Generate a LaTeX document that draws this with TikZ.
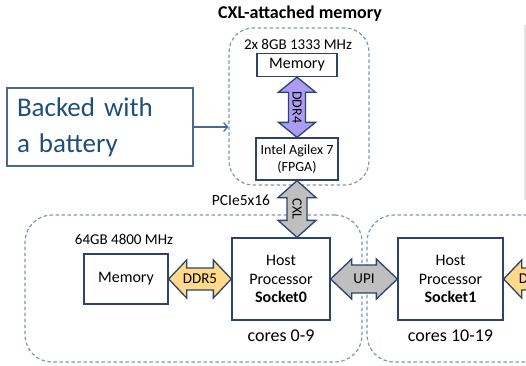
\documentclass[tikz,border=0pt]{standalone}
\usepackage{fontspec}
\setmainfont{Carlito}
\usetikzlibrary{calc,arrows.meta}
\definecolor{boxc}{HTML}{2E4369}
\definecolor{dashc}{HTML}{8497B0}
\definecolor{purp}{HTML}{AD9CF4}
\definecolor{yell}{HTML}{FFDA88}
\definecolor{grayf}{HTML}{BFBFBF}
\definecolor{battc}{HTML}{1F4E79}
\definecolor{battb}{HTML}{4A6890}
\newcommand\fs[2]{\fontsize{#1}{#2}\selectfont}
% horizontal double fat arrow: style, left point, right point, head half, shaft half, head length
\newcommand\fatH[6]{\path[#1] let \p1=#2, \p2=#3 in
  (\x1,\y1) -- (\x1+#6,\y1+#4) -- (\x1+#6,\y1+#5) -- (\x2-#6,\y1+#5) -- (\x2-#6,\y1+#4) -- (\x2,\y1)
  -- (\x2-#6,\y1-#4) -- (\x2-#6,\y1-#5) -- (\x1+#6,\y1-#5) -- (\x1+#6,\y1-#4) -- cycle;}
% vertical double fat arrow: style, top point, bottom point, head half, shaft half, head length
\newcommand\fatV[6]{\path[#1] let \p1=#2, \p2=#3 in
  (\x1,\y1) -- (\x1+#4,\y1-#6) -- (\x1+#5,\y1-#6) -- (\x1+#5,\y2+#6) -- (\x1+#4,\y2+#6) -- (\x1,\y2)
  -- (\x1-#4,\y2+#6) -- (\x1-#5,\y2+#6) -- (\x1-#5,\y1-#6) -- (\x1-#4,\y1-#6) -- cycle;}
\begin{document}
\begin{tikzpicture}[x=1pt,y=-1pt,
  box/.style={draw=boxc, line width=1.3pt, fill=white, inner sep=0pt, align=center},
  region/.style={draw=dashc, dash pattern=on 3.5pt off 2.5pt, line width=1.2pt, rounded corners=24pt, inner sep=0pt},
  fat/.style={draw=boxc, line width=1.3pt, fill=#1},
  lbl/.style={inner sep=0pt, text=black}]
\useasboundingbox (0,0) rectangle (526,365);
\clip (0,0) rectangle (526,365);

% faint slide edge
\draw[draw=black!10, line width=1.5pt] (525,25) -- (525,200);

% regions
\node[region, minimum width=140pt, minimum height=157pt] (cxlbox) at (299,106.5) {};
\node[region, minimum width=337pt, minimum height=147pt, rounded corners=27pt] (sock0) at (193.5,288.5) {};
\node[region, minimum width=193pt, minimum height=147pt, rounded corners=27pt] (sock1) at (463.5,288.5) {};

% texts
\node[lbl, font=\bfseries\fs{18}{21}] (title) at (300,14) {CXL-attached memory};
\node[lbl, font=\fs{15}{18}] (cxlmemlbl) at (298,44) {2x 8GB 1333 MHz};
\node[lbl, font=\fs{15.5}{18}] (pcie) at (241,200) {PCIe5x16};
\node[lbl, font=\fs{15}{18}] (mem0lbl) at (124,239) {64GB 4800 MHz};
\node[lbl, font=\fs{18}{21}] (cores0) at (281,336) {cores 0-9};
\node[lbl, font=\fs{18}{21}] (cores1) at (450.5,336) {cores 10-19};

% boxes
\node[box, minimum width=80pt, minimum height=23pt, font=\fs{16}{19}] (memtop) at (297,65) {Memory};
\node[box, minimum width=82pt, minimum height=42pt, font=\fs{14}{17}] (fpga) at (297,159) {Intel Agilex 7\\(FPGA)};
\node[box, minimum width=84pt, minimum height=50pt, font=\fs{16}{19}] (mem0) at (126,279) {Memory};
\node[box, minimum width=98pt, minimum height=82pt, font=\fs{16}{18.5}] (host0) at (281,279) {Host\\Processor\\\textbf{Socket0}};
\node[box, minimum width=105pt, minimum height=82pt, font=\fs{16}{18.5}] (host1) at (450.5,279) {Host\\Processor\\\textbf{Socket1}};

% battery
\node[draw=battb, line width=1.2pt, minimum width=186pt, minimum height=78pt, text width=166pt, align=left,
      inner sep=0pt, text=battc, font=\fs{27}{36}] (batt) at (100,127) {Backed with\\a battery};
\draw[draw=battb, line width=1.2pt, -{Straight Barb[length=4pt,width=9pt]}] (batt.east) -- (cxlbox.west |- batt.east);

% fat arrows
\fatV{fat=purp}{(memtop.south)}{(fpga.north)}{18.5pt}{8.5pt}{15pt}
\node[lbl, rotate=-90, font=\fs{14}{16}] (ddr4) at ($(memtop.south)!0.5!(fpga.north)$) {DDR4};

\coordinate (cxlend) at (fpga.south |- host0.north);
\fatV{fat=grayf}{(fpga.south)}{(cxlend)}{19pt}{10pt}{17pt}
\node[lbl, rotate=-90, font=\fs{14}{16}] (cxl) at ($(fpga.south)!0.5!(cxlend)$) {CXL};

\fatH{fat=yell}{(mem0.east)}{(host0.west)}{19pt}{11pt}{18pt}
\node[lbl, font=\fs{15}{18}] (ddr5) at ($(mem0.east)!0.5!(host0.west)$) {DDR5};

\fatH{fat=grayf}{(host0.east)}{(host1.west)}{20pt}{14pt}{21pt}
\node[lbl, font=\fs{15}{18}] (upi) at ($(host0.east)!0.5!(host1.west)$) {UPI};

\coordinate (ddrR) at (570,279);
\fatH{fat=yell}{(host1.east)}{(ddrR)}{19pt}{11pt}{18pt}
\node[lbl, font=\fs{15}{18}] (ddr5b) at (536,279) {DDR5};
\end{tikzpicture}
\end{document}
